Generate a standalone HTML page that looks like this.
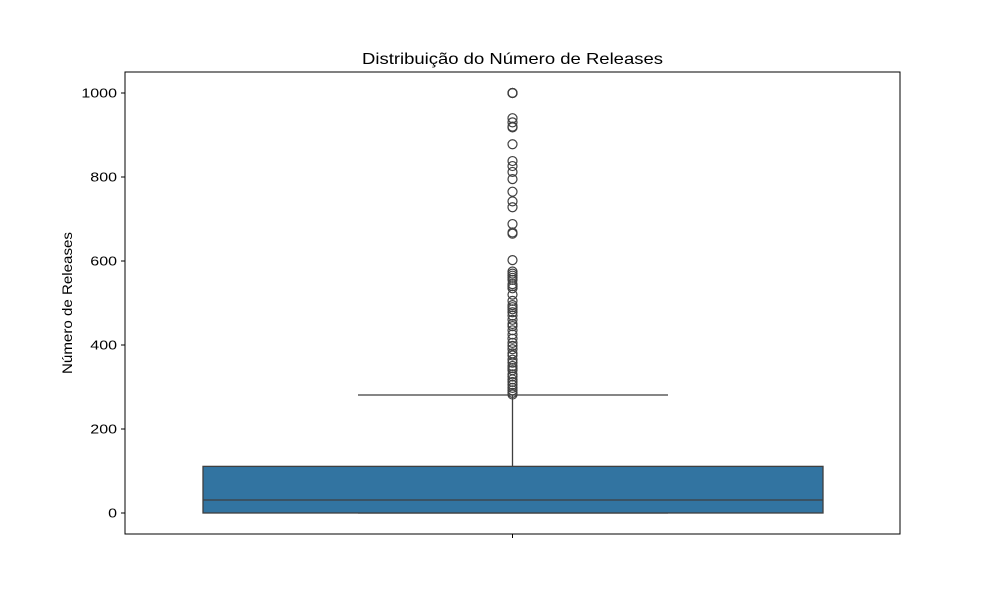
<!DOCTYPE html>
<html><head><meta charset="utf-8"><style>
body{margin:0;background:#fff;font-family:"Liberation Sans","DejaVu Sans",sans-serif}
</style></head><body>
<svg id="chart" width="1000" height="600"></svg>
<script>
const categories = [""];
const stats = {q1:0, median:31, q3:111, whiskerLow:0, whiskerHigh:281};
const outliers = [1000,1000,1000,1000,940,930,920,918,878,838,826,812,795,765,742,728,688,668,665,602,575,570,565,560,555,545,540,535,520,505,495,490,485,478,470,460,450,445,435,425,415,405,398,390,380,375,365,358,350,345,340,330,325,318,312,305,298,292,286,282];
const yTicks = [0,200,400,600,800,1000];
const NS="http://www.w3.org/2000/svg";
const svg=document.getElementById('chart');
const L=125,R=900,T=72,B=534;
const y=v=>513-v*0.42;
const cx=(L+R)/2;
function el(tag,attrs,parent){const e=document.createElementNS(NS,tag);for(const k in attrs)e.setAttribute(k,attrs[k]);(parent||svg).appendChild(e);return e;}
const title=el('text',{x:cx,y:64,'text-anchor':'middle','font-size':16,fill:'#000',textLength:301,lengthAdjust:'spacingAndGlyphs'});title.textContent='Distribuição do Número de Releases';


const yl=el('text',{x:72,y:303,'text-anchor':'middle','font-size':13.5,transform:'rotate(-90 72 303)',textLength:142,lengthAdjust:'spacingAndGlyphs'});yl.textContent='Número de Releases';


yTicks.forEach(t=>{
 const tk=el('line',{x1:L-4,x2:L,y1:y(t),y2:y(t),stroke:'#000'});
 
 
 const s=String(t);
 const tx=el('text',{x:L-8,y:y(t)+4.5,'text-anchor':'end','font-size':13,textLength:s.length*8.9,lengthAdjust:'spacingAndGlyphs'});tx.textContent=s;
 
 
});
const xt=el('line',{x1:cx,x2:cx,y1:B,y2:B+4,stroke:'#000'});


const bl=203,br=823,cl=358,cr=668;
const wl=el('line',{x1:cx,x2:cx,y1:y(stats.q3),y2:y(stats.whiskerHigh),stroke:'#3f3f3f','stroke-width':1.3});


const cap=el('line',{x1:cl,x2:cr,y1:y(stats.whiskerHigh),y2:y(stats.whiskerHigh),stroke:'#3f3f3f','stroke-width':1.3});


const cap2=el('line',{x1:cl,x2:cr,y1:y(stats.whiskerLow),y2:y(stats.whiskerLow),stroke:'#3f3f3f','stroke-width':1.3});


const box=el('rect',{x:bl,y:y(stats.q3),width:br-bl,height:y(stats.q1)-y(stats.q3),fill:'#3274a1',stroke:'#3f3f3f','stroke-width':1.3});


const med=el('line',{x1:bl,x2:br,y1:y(stats.median),y2:y(stats.median),stroke:'#3f3f3f','stroke-width':1.3});


outliers.forEach(v=>{
 const c=el('circle',{cx:cx,cy:y(v),r:4.5,fill:'none',stroke:'#3f3f3f','stroke-width':1.2});
 
 
});
const fr=el('rect',{x:L,y:T,width:R-L,height:B-T,fill:'none',stroke:'#000','stroke-width':1});


</script>
</body></html>
